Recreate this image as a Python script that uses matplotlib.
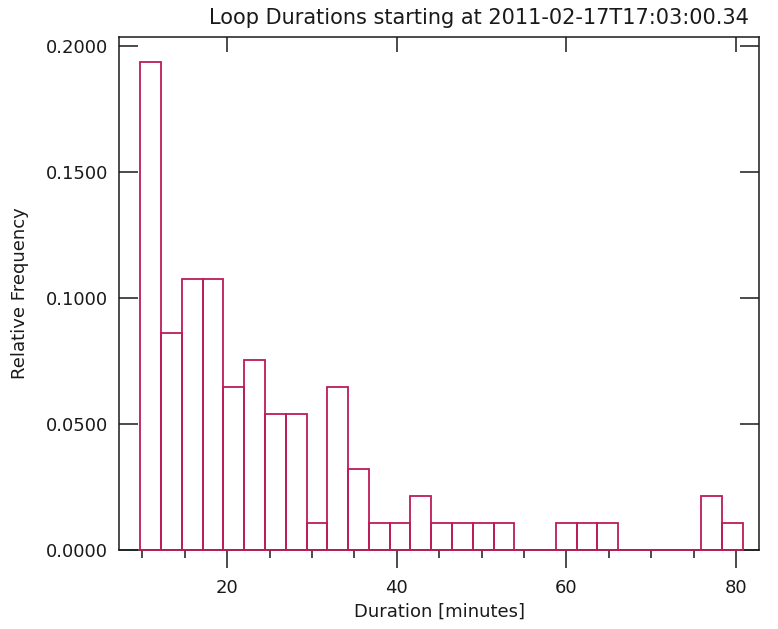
import numpy as np
import matplotlib
matplotlib.use("Agg")
import matplotlib.pyplot as plt

# ---- data ----
bin_start = 9.76          # minutes, left edge of the first bin
bin_width = 2.45          # minutes
rel_freq = [0.1935, 0.0860, 0.1075, 0.1075, 0.0645, 0.0753, 0.0538, 0.0538,
            0.0108, 0.0645, 0.0323, 0.0108, 0.0108, 0.0215, 0.0108, 0.0108,
            0.0108, 0.0108, 0.0, 0.0, 0.0108, 0.0108, 0.0108, 0.0, 0.0,
            0.0, 0.0, 0.0215, 0.0108]
x_major = [20, 40, 60, 80]
x_minor = [10, 15, 25, 30, 35, 45, 50, 55, 65, 70, 75]
y_ticks = [0.0, 0.05, 0.10, 0.15, 0.20]
title = "Loop Durations starting at 2011-02-17T17:03:00.34"
xlabel = "Duration [minutes]"
ylabel = "Relative Frequency"

bar_color = "#bc1c58"
ink = "#1a1a1a"

W, H = 778, 629
fig = plt.figure(figsize=(W / 100, H / 100), dpi=100)
ax = fig.add_axes([119 / W, 1 - 550 / H, (759 - 119) / W, (550 - 37) / H])

centers = bin_start + bin_width * (np.arange(len(rel_freq)) + 0.5)
ax.bar(centers, rel_freq, width=bin_width, fill=False, edgecolor=bar_color,
       linewidth=1.3, zorder=3, clip_on=False)

ax.set_xlim(7.24, 82.72)
ax.set_ylim(0, 0.2035)

for s in ax.spines.values():
    s.set_color(ink)
    s.set_linewidth(1.1)

ax.set_xticks(x_major)
ax.set_xticks(x_minor, minor=True)
ax.set_yticks(y_ticks)
ax.set_yticklabels([f"{v:.4f}" for v in y_ticks])
ax.tick_params(axis='x', which='major', direction='out', length=13, width=1.1,
               color=ink, labelsize=13, pad=8, labelcolor=ink)
ax.tick_params(axis='x', which='minor', direction='out', length=6, width=1.1,
               color=ink)
ax.tick_params(axis='y', which='major', direction='in', length=14, width=1.1,
               color=ink, right=True, labelsize=13, pad=8, labelcolor=ink)

top = ax.secondary_xaxis('top')
top.set_xticks(x_major)
top.set_xticklabels([])
top.tick_params(axis='x', direction='in', length=11, width=1.1, color=ink)
top.spines['top'].set_visible(False)

ax.set_xlabel(xlabel, fontsize=13, color=ink, labelpad=4)
ax.set_ylabel(ylabel, fontsize=13, color=ink, labelpad=12)

fig.text(479 / W, 1 - 18 / H, title, ha='center', va='center', fontsize=15,
         color=ink)

fig.savefig("out.png", dpi=100, facecolor="white")
